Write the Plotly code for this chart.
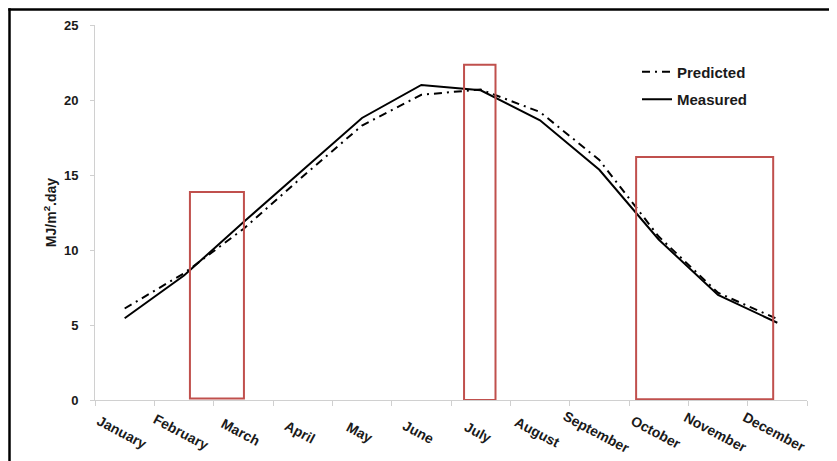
import plotly.graph_objects as go

months = ["January", "February", "March", "April", "May", "June",
          "July", "August", "September", "October", "November", "December"]
measured = [5.45, 8.3, 11.85, 15.3, 18.8, 21.0, 20.65, 18.65, 15.35, 10.7, 7.0, 5.15]
predicted = [6.1, 8.45, 11.4, 14.9, 18.3, 20.35, 20.7, 19.2, 16.0, 10.9, 7.15, 5.4]
y_ticks = [0, 5, 10, 15, 20, 25]

# highlight boxes: (x0 index, x1 index, y0, y1)
highlights = [(1.1, 2.01, 0.1, 13.87), (5.72, 6.25, 0.0, 22.35), (8.62, 10.93, 0.05, 16.2)]

FONT = "Liberation Sans, Arial, sans-serif"
OFF = 8  # page body margin
W, H = 837 - OFF, 461 - OFF
L, T = 95 - OFF, 24.5 - OFF
R, B = 30, 61
pw, ph = W - L - R, H - T - B

def px_x(p):  # page pixel -> paper
    return (p - OFF - L) / pw

def px_y(p):
    return (H - B - (p - OFF)) / ph

fig = go.Figure()
fig.add_trace(go.Scatter(x=months, y=predicted, mode="lines", name="Predicted",
                         legendgroup="p",
                         line=dict(color="black", width=2, dash="8px,5px,2px,5px")))
fig.add_trace(go.Scatter(x=months, y=measured, mode="lines", name="Measured",
                         legendgroup="m",
                         line=dict(color="black", width=2)))

for x0, x1, y0, y1 in highlights:
    fig.add_shape(type="rect", xref="x", yref="y", x0=x0, x1=x1, y0=y0, y1=y1,
                  line=dict(color="#C0504D", width=2), fillcolor="rgba(0,0,0,0)")

# outer frame (top and left edges visible)
fig.add_shape(type="line", xref="paper", yref="paper",
              x0=px_x(8.3), x1=px_x(845), y0=px_y(9), y1=px_y(9),
              line=dict(color="black", width=2.5), layer="above")
fig.add_shape(type="line", xref="paper", yref="paper",
              x0=px_x(9.5), x1=px_x(9.5), y0=px_y(7.8), y1=px_y(470),
              line=dict(color="black", width=2.5), layer="above")

for m in months:
    fig.add_annotation(x=m, xref="x", y=0, yref="paper", yshift=-32, xshift=-3,
                       text=m, showarrow=False, textangle=28,
                       xanchor="center", yanchor="middle",
                       font=dict(family=FONT, size=14, color="#1a1a1a", weight="bold"))

fig.update_layout(
    width=W, height=H,
    margin=dict(l=L, r=R, t=T, b=B, autoexpand=False),
    paper_bgcolor="white", plot_bgcolor="white",
    font=dict(family=FONT, size=13, color="#1a1a1a"),
    showlegend=True,
    legend=dict(x=px_x(637), y=px_y(55), xanchor="left", yanchor="top",
                traceorder="grouped", tracegroupgap=5,
                bgcolor="rgba(0,0,0,0)",
                font=dict(family=FONT, size=15, color="#1a1a1a", weight="bold")),
    xaxis=dict(type="category", range=[-0.5, 11.5], showticklabels=False,
               showline=True, linecolor="#d0d0d0", linewidth=1,
               ticks="outside", tickson="boundaries", ticklen=5, tickcolor="#d0d0d0",
               showgrid=False, zeroline=False, fixedrange=True),
    yaxis=dict(range=[0, 25], tickvals=y_ticks, showline=True, linecolor="#d0d0d0",
               linewidth=1, ticks="outside", ticklen=4, tickcolor="#d0d0d0",
               ticklabelstandoff=9, showgrid=False, zeroline=False,
               tickfont=dict(family=FONT, size=13, color="#1a1a1a", weight="bold"),
               title=dict(text="MJ/m<sup>2</sup>.day", standoff=4,
                          font=dict(family=FONT, size=14, color="#1a1a1a", weight="bold"))),
)

fig.write_html("out.html")
